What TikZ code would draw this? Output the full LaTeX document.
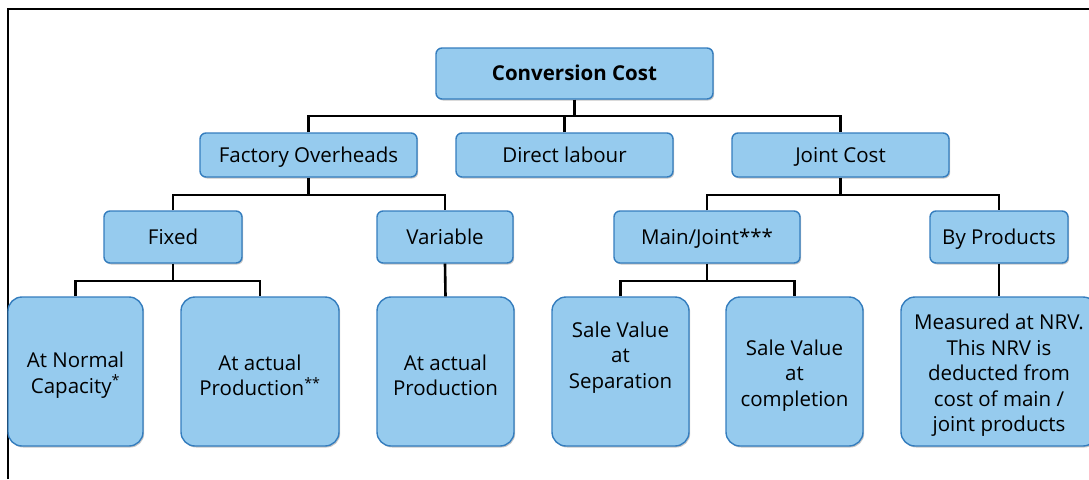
\documentclass[tikz,border=0pt]{standalone}
\usepackage{fontspec}
\setmainfont{Open Sans}
\usetikzlibrary{shadows}
\definecolor{boxfill}{RGB}{150,203,238}
\definecolor{boxline}{RGB}{52,125,190}
\newcommand\mytopstrut{\rule{0pt}{23pt}}
\tikzset{
  box/.style={draw=boxline, fill=boxfill, line width=1.4pt, align=center,
    inner sep=0pt, font=\fontsize{20.5}{25.5}\selectfont,
    drop shadow={shadow xshift=1.2pt, shadow yshift=-1.5pt, fill=black!45, opacity=.5}},
  small/.style={box, rounded corners=6pt, text height=19pt, text depth=4.5pt},
  tall/.style={box, rounded corners=14pt, minimum height=149pt},
  conn/.style={line width=2.6pt, black},
}
\begin{document}
\begin{tikzpicture}[x=1pt, y=-1pt]
\useasboundingbox (0,0) rectangle (1089,479);
\draw[line width=2pt] (8,479) -- (8,9) -- (1089,9);

% level 0
\node[small, minimum width=277pt, minimum height=51pt, font=\fontsize{20.5}{25.5}\selectfont\bfseries] (cc) at (574.5,73.5) {Conversion Cost};
% level 1
\node[small, minimum width=217pt, minimum height=44pt] (fo) at (308.5,155) {Factory Overheads};
\node[small, minimum width=217pt, minimum height=44pt] (dl) at (564.5,155) {Direct labour};
\node[small, minimum width=217pt, minimum height=44pt] (jc) at (840.5,155) {Joint Cost};
% level 2
\node[small, minimum width=138pt, minimum height=52pt] (fx) at (173,237) {Fixed};
\node[small, minimum width=136pt, minimum height=52pt] (va) at (445,237) {Variable};
\node[small, minimum width=186pt, minimum height=52pt] (mj) at (707,237) {Main/Joint***};
\node[small, minimum width=138pt, minimum height=52pt] (bp) at (999,237) {By Products};
% level 3
\node[tall, minimum width=135pt] (anc) at (75.5,371.5) {\mytopstrut At Normal\\Capacity\textsuperscript{*}};
\node[tall, minimum width=158pt] (aap2) at (260,371.5) {\mytopstrut At actual\\Production\textsuperscript{**}};
\node[tall, minimum width=137pt] (aap) at (445.5,371.5) {\mytopstrut At actual\\Production};
\node[tall, minimum width=137pt] (svs) at (620.5,371.5) {\mytopstrut Sale Value\\at\\Separation\\[15pt]\mbox{}};
\node[tall, minimum width=137pt] (svc) at (794.5,371.5) {\mytopstrut Sale Value\\at\\completion};
\node[tall, minimum width=196pt] (ms) at (999,371.5) {\mytopstrut Measured at NRV.\\This NRV is\\deducted from\\cost of main /\\joint products};

% connectors
\coordinate (j1) at (0,116);
\coordinate (j2) at (0,195);
\coordinate (j3) at (0,281);
\draw[conn] (cc.south) -- (cc.south |- j1);
\draw[conn] (fo.north) -- (fo.north |- j1) -| (jc.north);
\draw[conn] (dl.north) -- (dl.north |- j1);

\draw[conn] (fo.south) -- (fo.south |- j2);
\draw[conn] (fx.north) -- (fx.north |- j2) -| (va.north);
\draw[conn] (jc.south) -- (jc.south |- j2);
\draw[conn] (mj.north) -- (mj.north |- j2) -| (bp.north);

\draw[conn] (fx.south) -- (fx.south |- j3);
\draw[conn] (anc.north) -- (anc.north |- j3) -| (aap2.north);
\draw[conn] (va.south) -- (aap.north);
\draw[conn] (mj.south) -- (mj.south |- j3);
\draw[conn] (svs.north) -- (svs.north |- j3) -| (svc.north);
\draw[conn] (bp.south) -- (ms.north);
\end{tikzpicture}
\end{document}
